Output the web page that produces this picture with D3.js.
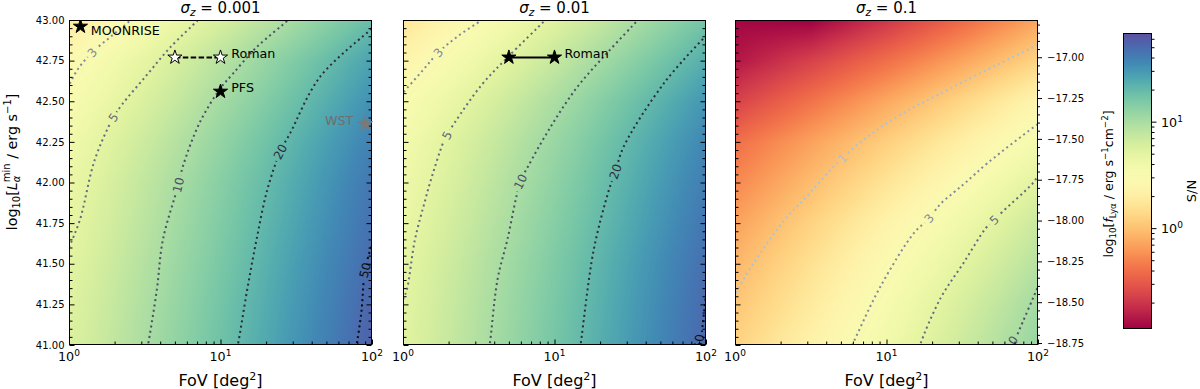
<!DOCTYPE html>
<html><head><meta charset="utf-8">
<script src="https://cdn.jsdelivr.net/npm/d3@7"></script>
<style>
body{margin:0;background:#fff}
svg{display:block}
text{font-family:"DejaVu Sans",sans-serif}
</style>
</head><body>
<svg id="chart" width="1200" height="389"></svg>
<script>
// ---------------- DATA ----------------
const sigmaZ = ["0.001", "0.01", "0.1"];
const fovGrid = [1, 3.162, 10, 31.62, 100];              // deg^2
const lumGrid = [41, 41.25, 41.5, 41.75, 42, 42.25, 42.5, 42.75, 43]; // log10 L_min
// S/N on the grid (rows follow lumGrid, columns follow fovGrid)
const snrSigma001 = [
 [5.56, 9.89, 17.6, 31.3, 55.6],
 [5.31, 9.44, 16.8, 29.9, 53.1],
 [5.01, 8.91, 15.8, 28.2, 50.1],
 [4.68, 8.32, 14.8, 26.3, 46.8],
 [4.37, 7.76, 13.8, 24.5, 43.7],
 [3.89, 6.92, 12.3, 21.9, 38.9],
 [3.27, 5.82, 10.4, 18.4, 32.7],
 [2.69, 4.79, 8.51, 15.1, 26.9],
 [1.88, 3.35, 5.96, 10.6, 18.8]
];
const snrSigma01 = [
 [5.19, 9.23, 16.4, 29.2, 51.9],
 [5.01, 8.91, 15.8, 28.2, 50.1],
 [4.79, 8.51, 15.1, 26.9, 47.9],
 [4.42, 7.85, 14.0, 24.8, 44.2],
 [4.07, 7.24, 12.9, 22.9, 40.7],
 [3.67, 6.53, 11.6, 20.7, 36.7],
 [3.09, 5.50, 9.77, 17.4, 30.9],
 [2.34, 4.17, 7.41, 13.2, 23.4],
 [1.68, 2.99, 5.31, 9.44, 16.8]
];
const snrSigma1 = [
 [1.26, 2.21, 3.89, 6.84, 12.0],
 [1.05, 1.86, 3.35, 6.03, 10.6],
 [0.871, 1.57, 2.82, 4.98, 8.71],
 [0.692, 1.25, 2.26, 3.98, 7.08],
 [0.525, 0.933, 1.66, 2.92, 5.19],
 [0.398, 0.689, 1.19, 2.06, 3.55],
 [0.229, 0.417, 0.741, 1.32, 2.43],
 [0.141, 0.229, 0.398, 0.708, 1.29],
 [0.120, 0.112, 0.200, 0.372, 0.708]
];
const colorDomain = [0.113, 68];

// contour lines: [FoV, log10 L]
const contoursSigma001 = [
 {level: 3,  lab: [1.42, 42.80], pts: [[0.97,42.58],[1.0,42.60],[1.15,42.70],[1.42,42.80],[1.9,42.90],[2.55,43.0],[2.7,43.03]]},
 {level: 5,  lab: [1.96, 42.40], pts: [[0.97,41.57],[1.0,41.60],[1.18,41.77],[1.48,42.14],[1.96,42.40],[2.24,42.48],[3.22,42.655],[4.64,42.83],[7.1,43.0],[7.4,43.02]]},
 {level: 10, lab: [5.27, 41.985], pts: [[3.28,40.98],[3.32,41.0],[3.8,41.34],[4.17,41.65],[5.27,41.985],[5.65,42.10],[7.3,42.37],[10.0,42.58],[12.1,42.67],[17.2,42.83],[27.9,43.0],[29,43.02]]},
 {level: 20, lab: [24.8, 42.19], pts: [[12.8,40.98],[13.0,41.0],[15.0,41.34],[17.3,41.65],[20.3,41.95],[24.8,42.19],[28.7,42.30],[45.4,42.65],[100,42.95],[104,42.97]]},
 {level: 50, lab: [90, 41.46], pts: [[78,40.98],[79,41.0],[85,41.2],[90,41.46],[100,41.62],[104,41.66]]}
];
const contoursSigma01 = [
 {level: 3,  lab: [1.71, 42.80], pts: [[0.97,42.53],[1.0,42.55],[1.35,42.69],[1.71,42.80],[2.3,42.90],[3.3,43.0],[3.5,43.02]]},
 {level: 5,  lab: [1.95, 42.29], pts: [[0.97,41.25],[1.0,41.28],[1.06,41.34],[1.2,41.65],[1.40,41.89],[1.51,42.0],[1.85,42.25],[1.95,42.29],[2.2,42.37],[3.3,42.6],[4.9,42.77],[8.7,43.0],[9.1,43.02]]},
 {level: 10, lab: [5.96, 42.005], pts: [[3.7,40.98],[3.77,41.03],[4.2,41.4],[4.89,41.65],[5.96,42.005],[6.7,42.10],[9.4,42.34],[14.2,42.59],[22.4,42.80],[35.5,43.0],[37,43.02]]},
 {level: 20, lab: [25.2, 42.067], pts: [[14.7,40.98],[14.9,41.01],[18.1,41.58],[22.8,41.95],[25.2,42.067],[28.6,42.22],[52.7,42.61],[97,42.89],[102,42.91]]},
 {level: 50, lab: [90, 41.02], pts: [[91.5,40.98],[92,41.0],[95,41.12],[100,41.31],[102,41.38]]}
];
const contoursSigma1 = [
 {level: 1,  lab: [5.09, 42.149], pts: [[0.98,41.29],[1.0,41.31],[1.32,41.5],[2.21,41.79],[2.82,41.89],[5.09,42.149],[10.2,42.37],[27.8,42.59],[100,42.85],[104,42.86]]},
 {level: 3,  lab: [19.1, 41.78], pts: [[5.7,40.97],[5.93,41.0],[9.12,41.36],[15.2,41.69],[19.1,41.78],[22.8,41.87],[27.9,41.94],[33.3,42.0],[46.5,42.12],[100,42.36],[104,42.37]]},
 {level: 5,  lab: [51.4, 41.77], pts: [[16.5,40.98],[16.8,41.01],[22.8,41.29],[32.5,41.51],[45.3,41.72],[51.4,41.77],[58.3,41.82],[92.3,41.995],[100,42.04],[104,42.06]]},
 {level: 10, lab: [66.2, 41.01], pts: [[66,40.98],[68.2,41.0],[73.5,41.07],[100,41.36],[104,41.4]]}
];

// surveys
const moonrise = [1.19, 42.96];
const romanFoV = [5, 10];
const romanLum = 42.77;
const pfs = [10, 42.56];
const wst = [90, 42.36];

// ticks
const lumTicks = [41, 41.25, 41.5, 41.75, 42, 42.25, 42.5, 42.75, 43];
const fovTicks = [1, 10, 100];
const fluxTicks = [-18.75, -18.5, -18.25, -18, -17.75, -17.5, -17.25, -17];
const fluxDomain = [-18.762, -16.772];
const snrTicks = [1, 10];

// ---------------- STYLE / LAYOUT ----------------
const FONT = "DejaVu Sans";
const panelX0 = [69, 403, 735];
const panelW = 303, plotTop = 20, plotH = 325, plotBot = plotTop + plotH;
const levelColor = {1: "#aec3d2", 3: "#808a9a", 5: "#656b80", 10: "#4d4f66", 20: "#2c2c3c", 50: "#0b0b10"};
const tickFont = 12.7;

const svg = d3.select("#chart");
const defs = svg.append("defs");

const color = d3.scaleSequentialLog(d3.interpolateSpectral).domain(colorDomain).clamp(true);
const lmin = Math.log10(colorDomain[0]), lmax = Math.log10(colorDomain[1]);
const lut = d3.range(1024).map(i => d3.rgb(color(Math.pow(10, lmin + (lmax - lmin) * i / 1023))));

const y = d3.scaleLinear().domain([41, 43]).range([plotBot, plotTop]);
const minorLum = d3.range(0, 41).map(i => 41 + i * 0.05).filter(v => Math.abs((v * 4) - Math.round(v * 4)) > 1e-6);
const minorFov = [2,3,4,5,6,7,8,9,20,30,40,50,60,70,80,90];

function drawHeat(g, grid, x, x0) {
  const cw = panelW, ch = plotH;
  const cv = document.createElement("canvas"); cv.width = cw; cv.height = ch;
  const ctx = cv.getContext("2d"); const im = ctx.createImageData(cw, ch);
  const uG = fovGrid.map(Math.log10);
  const lg = grid.map(r => r.map(Math.log10));
  for (let j = 0; j < ch; j++) {
    const L = y.invert(plotTop + j + 0.5);
    let r = d3.bisectRight(lumGrid, L) - 1; r = Math.max(0, Math.min(lumGrid.length - 2, r));
    const fy = (L - lumGrid[r]) / (lumGrid[r + 1] - lumGrid[r]);
    for (let i = 0; i < cw; i++) {
      const u = Math.log10(x.invert(x0 + i + 0.5));
      let c = d3.bisectRight(uG, u) - 1; c = Math.max(0, Math.min(uG.length - 2, c));
      const fx = (u - uG[c]) / (uG[c + 1] - uG[c]);
      const v = (1 - fy) * ((1 - fx) * lg[r][c] + fx * lg[r][c + 1]) + fy * ((1 - fx) * lg[r + 1][c] + fx * lg[r + 1][c + 1]);
      let k = Math.round((v - lmin) / (lmax - lmin) * 1023); k = Math.max(0, Math.min(1023, k));
      const col = lut[k], idx = (j * cw + i) * 4;
      im.data[idx] = col.r; im.data[idx + 1] = col.g; im.data[idx + 2] = col.b; im.data[idx + 3] = 255;
    }
  }
  ctx.putImageData(im, 0, 0);
  g.append("image").attr("x", x0).attr("y", plotTop).attr("width", cw).attr("height", ch)
    .attr("preserveAspectRatio", "none").attr("href", cv.toDataURL());
}

function star(g, x, yy, fill, stroke, size) {
  g.append("path").attr("d", d3.symbol().type(d3.symbolStar).size(size || 62)())
    .attr("transform", `translate(${x},${yy})`).attr("fill", fill).attr("stroke", stroke).attr("stroke-width", 1);
}
function label(g, x, yy, txt, anchor, fill) {
  g.append("text").attr("x", x).attr("y", yy).attr("font-size", tickFont).attr("text-anchor", anchor || "start")
    .attr("fill", fill || "#000").text(txt);
}

const panelData = [
  {grid: snrSigma001, contours: contoursSigma001},
  {grid: snrSigma01, contours: contoursSigma01},
  {grid: snrSigma1, contours: contoursSigma1}
];

panelData.forEach((p, pi) => {
  const x0 = panelX0[pi];
  const x = d3.scaleLog().domain([1, 100]).range([x0, x0 + panelW]);
  const g = svg.append("g");
  defs.append("clipPath").attr("id", "clip" + pi).append("rect")
    .attr("x", x0).attr("y", plotTop).attr("width", panelW).attr("height", plotH);

  drawHeat(g, p.grid, x, x0);

  // contour lines with gaps at labels
  const mask = defs.append("mask").attr("id", "mask" + pi).attr("maskUnits", "userSpaceOnUse")
    .attr("x", 0).attr("y", 0).attr("width", 1200).attr("height", 389);
  mask.append("rect").attr("width", 1200).attr("height", 389).attr("fill", "#fff");
  const cg = g.append("g").attr("clip-path", `url(#clip${pi})`);
  const lineG = cg.append("g").attr("mask", `url(#mask${pi})`);
  const line = d3.line().x(d => x(d[0])).y(d => y(d[1])).curve(d3.curveCatmullRom.alpha(0.5));
  p.contours.forEach(c => {
    const col = levelColor[c.level];
    lineG.append("path").attr("d", line(c.pts)).attr("fill", "none").attr("stroke", col)
      .attr("stroke-width", 2).attr("stroke-dasharray", "2,3.3");
    const sp = c.pts.map(d => [x(d[0]), y(d[1])]);
    const lx = x(c.lab[0]), ly = y(c.lab[1]);
    let best = 1e9, ang = 0;
    for (let i = 0; i < sp.length - 1; i++) {
      const mx = (sp[i][0] + sp[i + 1][0]) / 2, my = (sp[i][1] + sp[i + 1][1]) / 2;
      const d = Math.hypot(mx - lx, my - ly);
      if (d < best) { best = d; ang = Math.atan2(sp[i + 1][1] - sp[i][1], sp[i + 1][0] - sp[i][0]) * 180 / Math.PI; }
    }
    if (ang > 90) ang -= 180; if (ang < -90) ang += 180;
    const txt = String(c.level);
    const tw = txt.length * 7.6 + 5;
    mask.append("rect").attr("x", -tw / 2).attr("y", -6.5).attr("width", tw).attr("height", 13).attr("fill", "#000")
      .attr("transform", `translate(${lx},${ly}) rotate(${ang})`);
    cg.append("text").attr("transform", `translate(${lx},${ly}) rotate(${ang})`)
      .attr("text-anchor", "middle").attr("dy", "0.36em").attr("font-size", 12).attr("fill", col).text(txt);
  });

  // frame
  g.append("rect").attr("x", x0 + 0.5).attr("y", plotTop + 0.5).attr("width", panelW - 1).attr("height", plotH - 1)
    .attr("fill", "none").attr("stroke", "#000").attr("stroke-width", 1);

  // y ticks (inward)
  const axL = g.append("g").attr("transform", `translate(${x0 + 0.5},0)`).attr("color", "#000")
    .attr("font-family", FONT).attr("font-size", tickFont)
    .call(d3.axisLeft(y).tickValues(lumTicks).tickSize(-5).tickPadding(5)
      .tickFormat(pi === 0 ? d3.format(".2f") : () => ""));
  axL.select(".domain").remove();
  const axLm = g.append("g").attr("transform", `translate(${x0 + 0.5},0)`).attr("color", "#000")
    .call(d3.axisLeft(y).tickValues(minorLum).tickSize(-3).tickFormat(() => ""));
  axLm.select(".domain").remove();
  if (pi < 2) {
    const axR = g.append("g").attr("transform", `translate(${x0 + panelW - 0.5},0)`).attr("color", "#000")
      .call(d3.axisRight(y).tickValues(lumTicks).tickSize(-5).tickFormat(() => ""));
    axR.select(".domain").remove();
    const axRm = g.append("g").attr("transform", `translate(${x0 + panelW - 0.5},0)`).attr("color", "#000")
      .call(d3.axisRight(y).tickValues(minorLum).tickSize(-3).tickFormat(() => ""));
    axRm.select(".domain").remove();
  }
  // x ticks (inward)
  const axB = g.append("g").attr("transform", `translate(0,${plotBot - 0.5})`).attr("color", "#000")
    .call(d3.axisBottom(x).tickValues(fovTicks).tickSize(-5).tickFormat(() => ""));
  axB.select(".domain").remove();
  const axBm = g.append("g").attr("transform", `translate(0,${plotBot - 0.5})`).attr("color", "#000")
    .call(d3.axisBottom(x).tickValues(minorFov).tickSize(-3).tickFormat(() => ""));
  axBm.select(".domain").remove();
  fovTicks.forEach(v => {
    const t = g.append("text").attr("x", x(v)).attr("y", 361).attr("text-anchor", "middle").attr("font-size", tickFont);
    t.append("tspan").text("10");
    t.append("tspan").attr("dy", -5).attr("font-size", 9).text(Math.round(Math.log10(v)));
  });

  // title
  const tt = g.append("text").attr("x", x0 + panelW / 2).attr("y", 12.5).attr("text-anchor", "middle").attr("font-size", 15);
  tt.append("tspan").attr("font-style", "italic").text("σ");
  tt.append("tspan").attr("font-style", "italic").attr("font-size", 10.5).attr("dy", 3).text("z");
  tt.append("tspan").attr("dy", -3).text(" = " + sigmaZ[pi]);

  // x label
  const xl = g.append("text").attr("x", x0 + panelW / 2).attr("y", 386).attr("text-anchor", "middle").attr("font-size", 16);
  xl.append("tspan").text("FoV [deg");
  xl.append("tspan").attr("dy", -6).attr("font-size", 11).text("2");
  xl.append("tspan").attr("dy", 6).text("]");

  // surveys
  const mg = g.append("g");
  const mgc = mg.append("g").attr("clip-path", `url(#clip${pi})`);
  if (pi === 0) {
    mgc.append("line").attr("x1", x(romanFoV[0])).attr("x2", x(romanFoV[1])).attr("y1", y(romanLum)).attr("y2", y(romanLum))
      .attr("stroke", "#000").attr("stroke-width", 2).attr("stroke-dasharray", "5.5,2.4");
    romanFoV.forEach(f => star(mgc, x(f), y(romanLum), "#fff", "#000"));
    label(mg, x(romanFoV[1]) + 10.7, y(romanLum) + 1, "Roman");
    star(mgc, x(moonrise[0]), y(moonrise[1]), "#000", "#000");
    label(mg, x(moonrise[0]) + 10.3, y(moonrise[1]) + 8.3, "MOONRISE");
    star(mgc, x(pfs[0]), y(pfs[1]), "#000", "#000");
    label(mg, x(pfs[0]) + 10.7, y(pfs[1]) + 0.8, "PFS");
    star(mg, x(wst[0]), y(wst[1]), "#7a7a7a", "#7a7a7a", 66);
    label(mg, x(wst[0]) - 11.7, y(wst[1]) + 1, "WST", "end", "#6e6e6e");
  } else if (pi === 1) {
    mgc.append("line").attr("x1", x(romanFoV[0])).attr("x2", x(romanFoV[1])).attr("y1", y(romanLum)).attr("y2", y(romanLum))
      .attr("stroke", "#000").attr("stroke-width", 2);
    romanFoV.forEach(f => star(mgc, x(f), y(romanLum), "#000", "#000"));
    label(mg, x(romanFoV[1]) + 10, y(romanLum) + 1, "Roman");
  } else {
    const yf = d3.scaleLinear().domain(fluxDomain).range([plotBot, plotTop]);
    const minorFlux = d3.range(0, 40).map(i => -18.75 + i * 0.05).filter(v => v < -16.78 && Math.abs(v * 4 - Math.round(v * 4)) > 1e-6);
    const axF = g.append("g").attr("transform", `translate(${x0 + panelW - 0.5},0)`).attr("color", "#000")
      .attr("font-family", FONT).attr("font-size", tickFont)
      .call(d3.axisRight(yf).tickValues(fluxTicks).tickSize(4.5).tickPadding(5).tickFormat(d3.format(".2f")));
    axF.select(".domain").remove();
    const axFm = g.append("g").attr("transform", `translate(${x0 + panelW - 0.5},0)`).attr("color", "#000")
      .call(d3.axisRight(yf).tickValues(minorFlux).tickSize(2.5).tickFormat(() => ""));
    axFm.select(".domain").remove();
  }
});

// left y label
{
  const t = svg.append("text").attr("transform", "translate(16.5,162) rotate(-90)").attr("text-anchor", "middle").attr("font-size", 14.3);
  t.append("tspan").text("log");
  t.append("tspan").attr("font-size", 10).attr("dy", 3.6).text("10");
  t.append("tspan").attr("dy", -3.6).text("[");
  t.append("tspan").attr("font-style", "italic").text("L");
  t.append("tspan").attr("font-style", "italic").attr("font-size", 10).attr("dy", 3.6).text("α");
  t.append("tspan").attr("font-size", 10).attr("dx", -6.6).attr("dy", -10).text("min");
  t.append("tspan").attr("dy", 6.4).text(" / erg s");
  t.append("tspan").attr("font-size", 10).attr("dy", -5.5).text("−1");
  t.append("tspan").attr("dy", 5.5).text("]");
}
// right flux label
{
  const t = svg.append("text").attr("transform", "translate(1113,184) rotate(-90)").attr("text-anchor", "middle").attr("font-size", 12.5);
  t.append("tspan").text("log");
  t.append("tspan").attr("font-size", 8.7).attr("dy", 3).text("10");
  t.append("tspan").attr("dy", -3).text("[");
  t.append("tspan").attr("font-style", "italic").text("f");
  t.append("tspan").attr("font-size", 8.7).attr("dy", 3).text("Lyα");
  t.append("tspan").attr("dy", -3).text(" / erg s");
  t.append("tspan").attr("font-size", 8.7).attr("dy", -5).text("−1");
  t.append("tspan").attr("dy", 5).text("cm");
  t.append("tspan").attr("font-size", 8.7).attr("dy", -5).text("−2");
  t.append("tspan").attr("dy", 5).text("]");
}

// colorbar
{
  const cbX = 1123, cbW = 29, cbTop = 33, cbBot = 329;
  const cs = d3.scaleLog().domain(colorDomain).range([cbBot, cbTop]);
  const cv = document.createElement("canvas"); cv.width = 1; cv.height = cbBot - cbTop;
  const ctx = cv.getContext("2d");
  for (let j = 0; j < cbBot - cbTop; j++) {
    ctx.fillStyle = color(cs.invert(cbTop + j + 0.5));
    ctx.fillRect(0, j, 1, 1);
  }
  svg.append("image").attr("x", cbX).attr("y", cbTop).attr("width", cbW).attr("height", cbBot - cbTop)
    .attr("preserveAspectRatio", "none").attr("href", cv.toDataURL());
  svg.append("rect").attr("x", cbX + 0.5).attr("y", cbTop + 0.5).attr("width", cbW - 1).attr("height", cbBot - cbTop - 1)
    .attr("fill", "none").attr("stroke", "#000");
  const minorSnr = [0.2,0.3,0.4,0.5,0.6,0.7,0.8,0.9,2,3,4,5,6,7,8,9,20,30,40,50,60];
  const ax = svg.append("g").attr("transform", `translate(${cbX + cbW - 0.5},0)`).attr("color", "#000")
    .call(d3.axisRight(cs).tickValues(snrTicks).tickSize(5).tickFormat(() => ""));
  ax.select(".domain").remove();
  const axm = svg.append("g").attr("transform", `translate(${cbX + cbW - 0.5},0)`).attr("color", "#000")
    .call(d3.axisRight(cs).tickValues(minorSnr).tickSize(3).tickFormat(() => ""));
  axm.select(".domain").remove();
  snrTicks.forEach(v => {
    const t = svg.append("text").attr("x", cbX + cbW + 9).attr("y", cs(v) + 5).attr("font-size", tickFont);
    t.append("tspan").text("10");
    t.append("tspan").attr("dy", -5).attr("font-size", 9).text(Math.round(Math.log10(v)));
  });
  svg.append("text").attr("transform", "translate(1196,191) rotate(-90)").attr("text-anchor", "middle")
    .attr("font-size", 13).text("S/N");
}
</script>
</body></html>
